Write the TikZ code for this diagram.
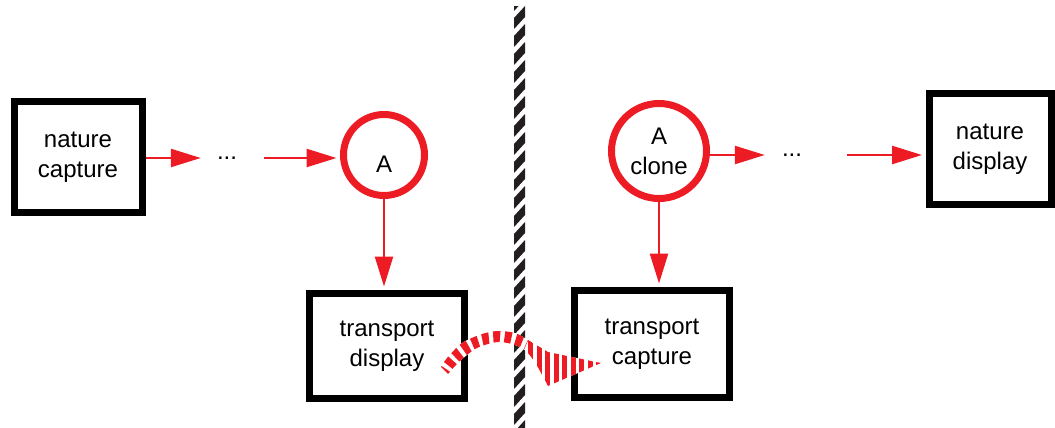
\documentclass[tikz,border=0pt]{standalone}
\usepackage{fontspec}
\setmainfont{Liberation Sans}
\usepackage{tikz}
\usetikzlibrary{calc, arrows.meta}
\definecolor{sigred}{RGB}{237,28,36}
\definecolor{wallblack}{RGB}{35,31,32}
\tikzset{
  box/.style={draw=black, line width=7pt, align=center, inner sep=0pt},
  ring/.style={circle, draw=sigred, line width=7pt, align=center, inner sep=0pt},
  flow/.style={draw=sigred, line width=2.5pt, -{Triangle[length=30pt, width=18pt]}},
  gap/.style={inner sep=0pt}
}

\begin{document}
\begin{tikzpicture}[x=1pt, y=-1pt, font=\fontsize{24}{30}\selectfont]
    \useasboundingbox (0,0) rectangle (1055,428);
    %壁(斜めの縞)
    \begin{scope}
      \clip (514,7) rectangle (525,428);
      \foreach \y in {0,18,...,450}
        \fill[wallblack] (514,\y) -- (525,\y-12) -- (525,\y-1) -- (514,\y+11) -- cycle;
    \end{scope}
    %箱と円
    \node[box, minimum width=128pt, minimum height=111pt] (natcap) at (78,157) {nature\\capture};
    \node[ring, minimum size=81pt, text height=34pt, text depth=0pt] (A) at (384,155) {A};
    \node[box, minimum width=155pt, minimum height=105pt] (trdis) at (387,346) {transport\\display};
    \node[ring, minimum size=95pt] (clone) at (659,151) {A\\clone};
    \node[box, minimum width=155pt, minimum height=107pt] (trcap) at (652,344) {transport\\capture};
    \node[box, minimum width=122pt, minimum height=111pt] (natdis) at (990,149) {nature\\display};
    \node[gap] (dotsL) at (227,158) {...};
    \node[gap] (dotsR) at (792,155) {...};
    %矢印
    \draw[flow, shorten >=16pt] (natcap.east |- dotsL) -- (dotsL.west);
    \draw[flow, shorten <=27pt, shorten >=3.5pt] (dotsL.east) -- (dotsL.east -| A.west);
    \draw[flow, shorten >=3.5pt] (A.south) -- (A.south |- trdis.north);
    \draw[flow, shorten >=17pt] (clone.east |- dotsR) -- (dotsR.west);
    \draw[flow, shorten <=45pt, shorten >=3.5pt] (dotsR.east) -- (dotsR.east -| natdis.west);
    \draw[flow, shorten >=3.5pt] (clone.south) -- (clone.south |- trcap.north);
    %壁を越える波
    \begin{scope}
      \clip plot[smooth] coordinates {(441,367) (447,358) (462,343) (482,334) (498,331) (515,333) (528,340) (548,352)}
        -- (601,363)
        -- plot[smooth] coordinates {(548,386) (536,364) (526,351) (515,345) (498,342) (477,348) (460,361) (448,374)}
        -- cycle;
      \fill[white] (430,320) rectangle (610,395);
      \draw[sigred, line width=40pt, dash pattern=on 7pt off 4.5pt]
        (438,372) .. controls (460,335) and (495,328) .. (527,343);
      \foreach \x in {528,536.5,...,605}
        \fill[sigred] (\x,320) rectangle (\x+5,395);
    \end{scope}
\end{tikzpicture}
\end{document}
